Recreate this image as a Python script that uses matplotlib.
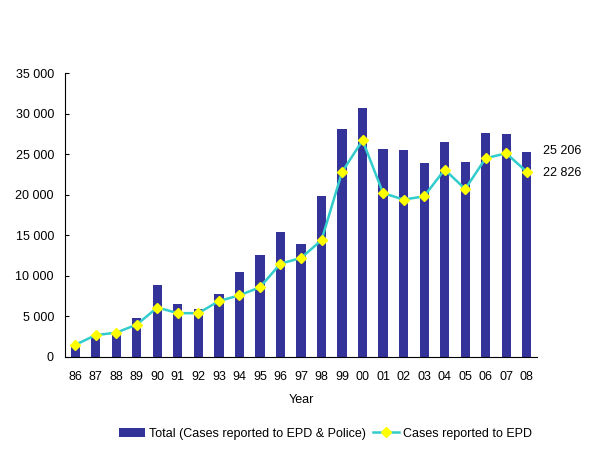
import matplotlib
matplotlib.use("Agg")
import matplotlib.pyplot as plt
from matplotlib.ticker import FuncFormatter, MultipleLocator

plt.rcParams["font.family"] = ["Liberation Sans", "DejaVu Sans"]
plt.rcParams["font.size"] = 9

years = ["86", "87", "88", "89", "90", "91", "92", "93", "94", "95", "96", "97",
         "98", "99", "00", "01", "02", "03", "04", "05", "06", "07", "08"]
total = [1500, 2700, 3100, 4850, 8870, 6500, 5900, 7750, 10500, 12600, 15400, 13970,
         19850, 28100, 30700, 25600, 25500, 23900, 26500, 24000, 27600, 27500, 25206]
epd = [1500, 2700, 3000, 4000, 6100, 5400, 5400, 6900, 7600, 8600, 11500, 12200,
       14400, 22800, 26700, 20200, 19400, 19800, 23100, 20700, 24500, 25100, 22826]

x = list(range(len(years)))

fig = plt.figure(figsize=(5.99, 4.49), dpi=100)
ax = fig.add_axes([0.1085, 0.2049, 0.788, 0.6325])

bars = ax.bar(x, total, width=0.45, color="#333399", zorder=2,
              label="Total (Cases reported to EPD & Police)")
line, = ax.plot(x, epd, color="#33CCCC", lw=1.8, marker="D", markersize=5,
                markerfacecolor="#FFFF00", markeredgecolor="#FFFF00", zorder=3,
                label="Cases reported to EPD")

ax.set_xlim(-0.5, len(years) - 0.5)
ax.set_ylim(0, 35000)
ax.yaxis.set_major_locator(MultipleLocator(5000))
ax.yaxis.set_major_formatter(FuncFormatter(lambda v, p: f"{int(v):,}".replace(",", " ")))
ax.set_xticks(x)
ax.set_xticklabels(years)
ax.tick_params(axis="x", length=0, pad=10)
ax.tick_params(axis="y", direction="in", length=3, pad=8)
for side in ("top", "right"):
    ax.spines[side].set_visible(False)
ax.set_xlabel("Year", labelpad=8)

fmt = lambda v: f"{v:,}".replace(",", " ")
ax.annotate(fmt(total[-1]), (x[-1], total[-1]), xytext=(12, 1),
            textcoords="offset points", va="center", ha="left", annotation_clip=False)
ax.annotate(fmt(epd[-1]), (x[-1], epd[-1]), xytext=(12, -1),
            textcoords="offset points", va="center", ha="left", annotation_clip=False)

fig.legend([bars, line], [bars.get_label(), line.get_label()],
           loc="center", bbox_to_anchor=(0.543, 0.034), ncol=2, frameon=False,
           handlelength=2.1, columnspacing=0.6, handletextpad=0.3)

fig.savefig("out.png", dpi=100)
